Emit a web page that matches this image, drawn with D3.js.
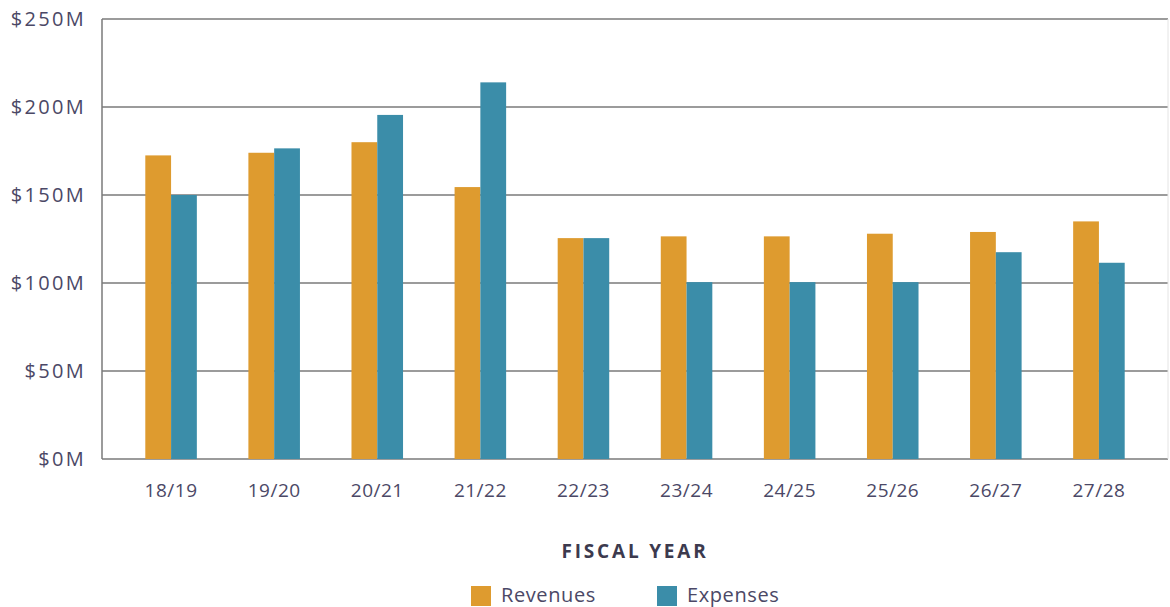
<!DOCTYPE html>
<html>
<head>
<meta charset="utf-8">
<script src="https://cdn.jsdelivr.net/npm/d3@7"></script>
<style>
  body { margin: 0; background: #fff; }
  svg { display: block; font-family: "Open Sans", sans-serif; }
</style>
</head>
<body>
<div id="chart"></div>
<script>
// fiscal years and values in millions
const years = ["18/19", "19/20", "20/21", "21/22", "22/23", "23/24", "24/25", "25/26", "26/27", "27/28"];
const revenues = [172.5, 174, 180, 154.5, 125.5, 126.5, 126.5, 128, 129, 135];
const expenses = [150, 176.5, 195.5, 214, 125.5, 100.5, 100.5, 100.5, 117.5, 111.5];
const seriesNames = ["Revenues", "Expenses"];
const yTicks = [0, 50, 100, 150, 200, 250];

const width = 1170, height = 607;
const margin = { top: 19, right: 2, bottom: 148, left: 102 };
const colors = { Revenues: "#DE9B2F", Expenses: "#3B8DA9" };
const textColor = "#4B4866";

const svg = d3.select("#chart").append("svg")
    .attr("width", width)
    .attr("height", height);

const x0 = d3.scaleBand()
    .domain(years)
    .range([margin.left, width - margin.right])
    .paddingInner(0.5)
    .paddingOuter(0.42);

const x1 = d3.scaleBand()
    .domain(seriesNames)
    .range([0, x0.bandwidth()]);

const y = d3.scaleLinear()
    .domain([0, 250])
    .range([height - margin.bottom, margin.top]);

// gridlines
svg.append("g")
    .selectAll("line")
    .data(yTicks)
    .join("line")
    .attr("x1", margin.left)
    .attr("x2", width - margin.right)
    .attr("y1", d => y(d))
    .attr("y2", d => y(d))
    .attr("stroke", "#7a7a7a")
    .attr("stroke-width", 1.5);

// left axis line + faint right edge
svg.append("line")
    .attr("x1", margin.left).attr("x2", margin.left)
    .attr("y1", y(250)).attr("y2", y(0))
    .attr("stroke", "#7a7a7a").attr("stroke-width", 1.5);
svg.append("line")
    .attr("x1", width - margin.right).attr("x2", width - margin.right)
    .attr("y1", y(250)).attr("y2", y(0))
    .attr("stroke", "#e4e4e4").attr("stroke-width", 1);

// y labels
const yAxis = d3.axisLeft(y)
    .tickValues(yTicks)
    .tickFormat(d => `$${d}M`)
    .tickSize(0)
    .tickPadding(16);
const yg = svg.append("g")
    .attr("transform", `translate(${margin.left},0)`)
    .call(yAxis);
yg.select(".domain").remove();
yg.selectAll("text")
    .attr("fill", textColor)
    .style("font-size", "20px")
    .style("letter-spacing", "2.3px")
    .style("font-family", "'Open Sans', sans-serif");

// bars
const rows = years.map((yr, i) => ({ year: yr, Revenues: revenues[i], Expenses: expenses[i] }));
svg.append("g")
    .selectAll("g")
    .data(rows)
    .join("g")
    .attr("transform", d => `translate(${x0(d.year)},0)`)
    .selectAll("rect")
    .data(d => seriesNames.map(k => ({ key: k, value: d[k] })))
    .join("rect")
    .attr("x", d => x1(d.key))
    .attr("width", x1.bandwidth())
    .attr("y", d => y(d.value))
    .attr("height", d => y(0) - y(d.value))
    .attr("fill", d => colors[d.key]);

// x labels
const xAxis = d3.axisBottom(x0).tickSize(0).tickPadding(25);
const xg = svg.append("g")
    .attr("transform", `translate(0,${y(0)})`)
    .call(xAxis);
xg.select(".domain").remove();
xg.selectAll("text")
    .attr("fill", textColor)
    .style("font-size", "19px")
    .style("letter-spacing", "0.5px")
    .style("font-family", "'Open Sans', sans-serif");

// axis title
svg.append("text")
    .attr("x", 635)
    .attr("y", 558)
    .attr("text-anchor", "middle")
    .attr("fill", "#3c3a4e")
    .style("font-size", "19px")
    .style("font-weight", "bold")
    .style("letter-spacing", "2.8px")
    .text("FISCAL YEAR");

// legend
const legendX = [471, 657];
const legend = svg.append("g")
    .selectAll("g")
    .data(seriesNames)
    .join("g")
    .attr("transform", (d, i) => `translate(${legendX[i]},586)`);
legend.append("rect")
    .attr("width", 20)
    .attr("height", 20)
    .attr("fill", d => colors[d]);
legend.append("text")
    .attr("x", 30)
    .attr("y", 16)
    .attr("fill", textColor)
    .style("font-size", "20px")
    .style("letter-spacing", "0.6px")
    .text(d => d);
</script>
</body>
</html>
